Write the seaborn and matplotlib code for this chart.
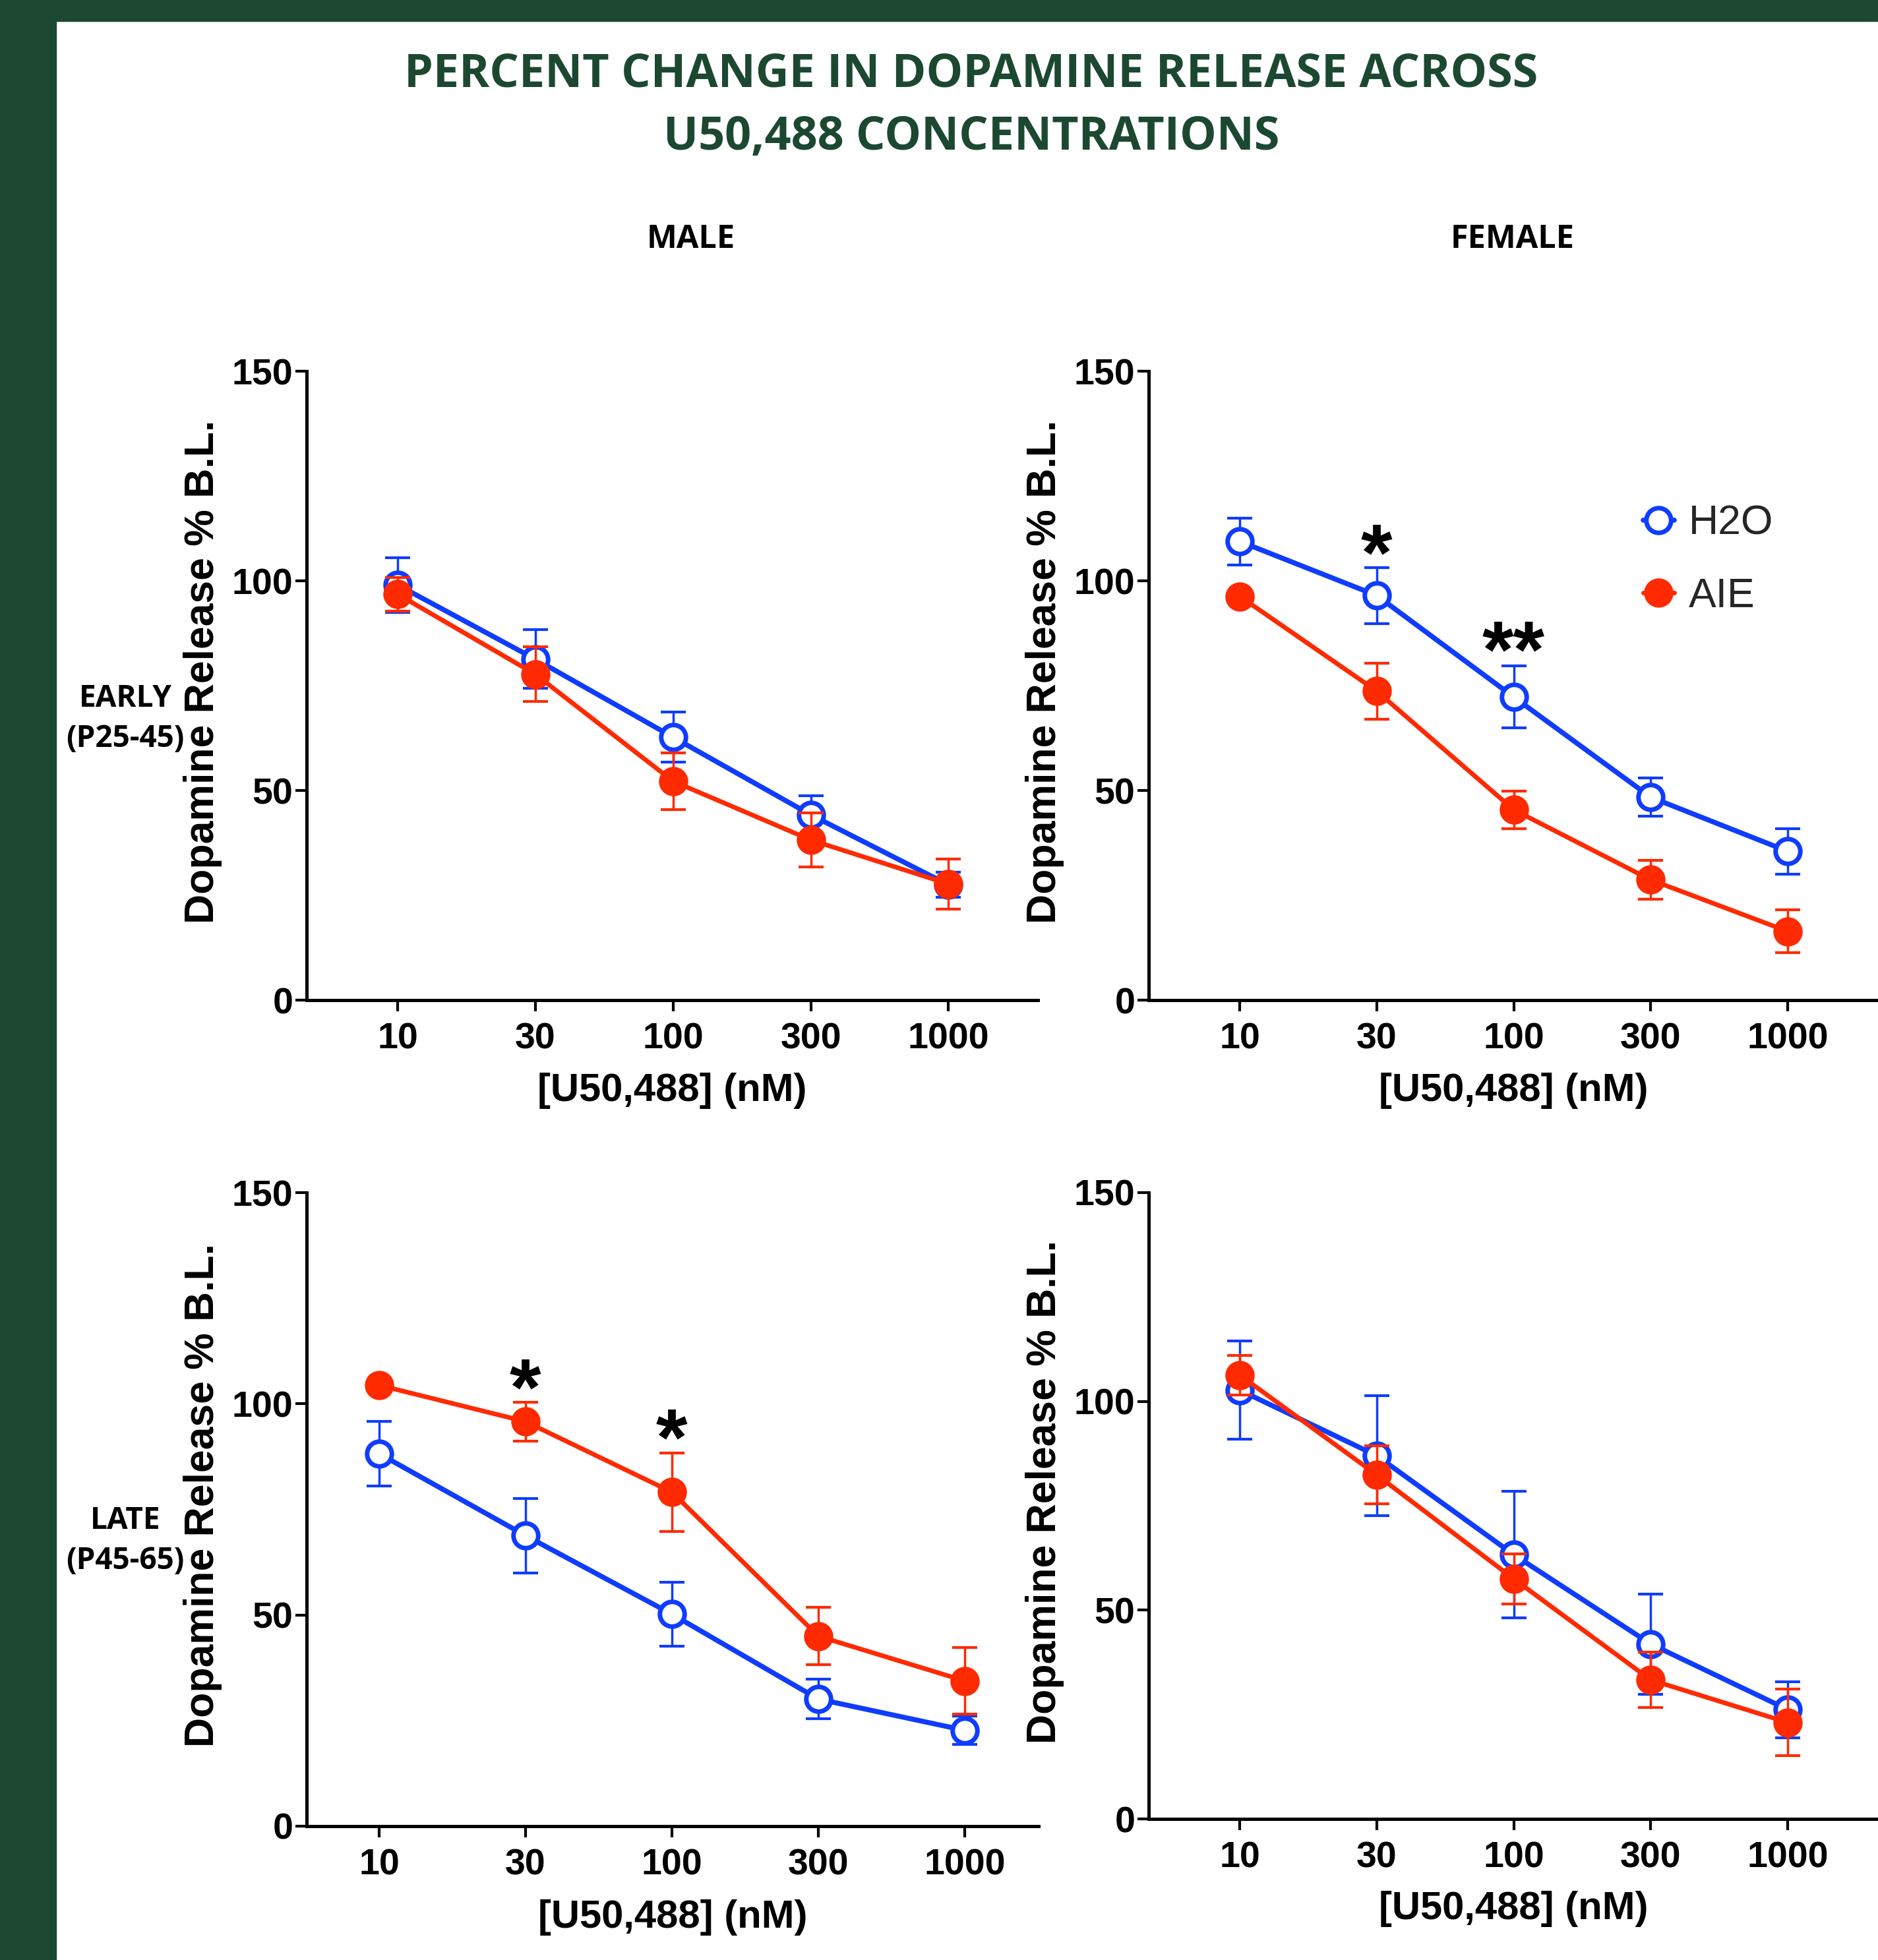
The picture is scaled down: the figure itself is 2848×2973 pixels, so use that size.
import matplotlib
matplotlib.use("Agg")
import matplotlib.pyplot as plt
from matplotlib.patches import Rectangle
import pandas as pd
import seaborn as sns

# x categories (equally spaced, GraphPad style)
conc_labels = ["10", "30", "100", "300", "1000"]

# MALE, EARLY (P25-45)
male_early_h2o = [99.0, 81.3, 62.7, 44.2, 27.5]
male_early_h2o_sem = [6.5, 7.0, 6.0, 4.5, 3.0]
male_early_aie = [96.8, 77.7, 52.2, 38.2, 27.7]
male_early_aie_sem = [4.0, 6.5, 6.7, 6.5, 6.0]

# FEMALE, EARLY
female_early_h2o = [109.4, 96.5, 72.3, 48.4, 35.5]
female_early_h2o_sem = [5.6, 6.7, 7.4, 4.6, 5.4]
female_early_aie = [96.3, 73.7, 45.4, 28.7, 16.4]
female_early_aie_sem = [1.0, 6.7, 4.5, 4.7, 5.1]

# MALE, LATE (P45-65)
male_late_h2o = [88.2, 68.8, 50.2, 30.1, 22.7]
male_late_h2o_sem = [7.7, 8.8, 7.6, 4.7, 3.4]
male_late_aie = [104.4, 95.8, 79.1, 45.0, 34.4]
male_late_aie_sem = [1.0, 4.6, 9.3, 6.8, 7.9]

# FEMALE, LATE
female_late_h2o = [102.7, 87.0, 63.3, 41.9, 26.2]
female_late_h2o_sem = [11.7, 14.3, 15.2, 12.0, 6.7]
female_late_aie = [106.3, 82.4, 57.5, 33.3, 23.1]
female_late_aie_sem = [4.7, 7.0, 6.0, 6.6, 8.0]

# significance marks: (category index, y level of the star centre, text)
female_early_stars = [(1, 109.7, "*"), (2, 86.5, "**")]
male_late_stars = [(1, 106.8, "*"), (2, 95.0, "*")]

BLUE = "#0f3cff"
RED = "#ff2a00"
GREEN = "#1c4832"
STAR_FS = 88

sns.set_theme(style="ticks")
plt.rcParams["font.family"] = ["Liberation Sans", "DejaVu Sans"]

W, H = 2848, 2973
fig = plt.figure(figsize=(W / 100, H / 100), dpi=100)
fig.patch.set_facecolor("white")

# dark green frame (left and top)
fig.patches.append(Rectangle((0, 0), 85 / W, 1, transform=fig.transFigure,
                             color=GREEN, zorder=0))
fig.patches.append(Rectangle((0, 1 - 32 / H), 1, 32 / H, transform=fig.transFigure,
                             color=GREEN, zorder=0))


def box(l, t, r, b):
    return [l / W, 1 - b / H, (r - l) / W, (b - t) / H]


panels = [
    (box(465, 563, 1574, 1517), (-0.662, 4.65), male_early_h2o, male_early_h2o_sem,
     male_early_aie, male_early_aie_sem, []),
    (box(1742, 563, 2848, 1517), (-0.665, 4.66), female_early_h2o, female_early_h2o_sem,
     female_early_aie, female_early_aie_sem, female_early_stars),
    (box(465, 1809, 1575, 2770), (-0.495, 4.505), male_late_h2o, male_late_h2o_sem,
     male_late_aie, male_late_aie_sem, male_late_stars),
    (box(1742, 1809, 2848, 2759), (-0.665, 4.66), female_late_h2o, female_late_h2o_sem,
     female_late_aie, female_late_aie_sem, []),
]

axes = []
for rect, xlim, h2o, h2o_sem, aie, aie_sem, stars in panels:
    ax = fig.add_axes(rect)
    ax.set_facecolor("white")
    xs = list(range(len(conc_labels)))
    df = pd.DataFrame({"x": xs, "h2o": h2o, "aie": aie})

    ax.errorbar(xs, h2o, yerr=h2o_sem, fmt="none", ecolor=BLUE, elinewidth=2.5,
                capsize=14, capthick=3, zorder=2, clip_on=False)
    sns.lineplot(data=df, x="x", y="h2o", ax=ax, color=BLUE, lw=5.5, marker="o",
                 markersize=27, markerfacecolor="white", markeredgecolor=BLUE,
                 markeredgewidth=5, label="H2O", legend=False, zorder=3, clip_on=False)
    ax.errorbar(xs, aie, yerr=aie_sem, fmt="none", ecolor=RED, elinewidth=2.5,
                capsize=14, capthick=3, zorder=4, clip_on=False)
    sns.lineplot(data=df, x="x", y="aie", ax=ax, color=RED, lw=5, marker="o",
                 markersize=32, markerfacecolor=RED, markeredgewidth=0,
                 label="AIE", legend=False, zorder=5, clip_on=False)

    # asterisk glyph sits high in the em box: anchor on baseline, shift down
    for xi, yi, s in stars:
        ax.annotate(s, (xi, yi), xytext=(0, -0.49 * STAR_FS), textcoords="offset points",
                    ha="center", va="baseline", fontsize=STAR_FS,
                    fontweight="bold", color="black")

    ax.set_xlim(*xlim)
    ax.set_ylim(0, 150)
    ax.set_xticks(xs)
    ax.set_xticklabels(conc_labels)
    ax.set_yticks([0, 50, 100, 150])
    sns.despine(ax=ax)
    for side in ["left", "bottom"]:
        ax.spines[side].set_linewidth(3.6)
        ax.spines[side].set_color("black")
    ax.tick_params(axis="both", length=12, width=3, colors="black")
    ax.tick_params(axis="x", pad=12, labelsize=40)
    ax.tick_params(axis="y", pad=3, labelsize=40)
    for lab in ax.get_xticklabels() + ax.get_yticklabels():
        lab.set_fontweight("bold")

    ax.set_xlabel("[U50,488] (nM)", fontsize=43, fontweight="bold", color="black")
    ax.set_ylabel("Dopamine Release % B.L.", fontsize=45, fontweight="bold", color="black")
    ax.xaxis.label.set_va("center")
    ax.yaxis.label.set_va("center")
    ax.xaxis.set_label_coords(0.5, -0.144)
    ax.yaxis.set_label_coords(-0.142, 0.522)
    ax.grid(False)
    axes.append(ax)

# legend in the female-early panel
handles, labels = axes[1].get_legend_handles_labels()
fig.legend(handles, labels, loc="center left", bbox_to_anchor=(2492 / W, 1 - 849 / H),
           frameon=False, fontsize=45, handlelength=0.75, handletextpad=0.35,
           labelspacing=0.82, borderpad=0, borderaxespad=0)

# titles
title_kw = dict(ha="center", va="center", color=GREEN, fontsize=50.5,
                fontweight="bold", family=["Open Sans", "DejaVu Sans"])
fig.text(1473 / W, 1 - 114 / H, "PERCENT CHANGE IN DOPAMINE RELEASE ACROSS", **title_kw)
fig.text(1473 / W, 1 - 209 / H, "U50,488 CONCENTRATIONS", **title_kw)

head_kw = dict(ha="center", va="center", color="black", fontsize=35,
               fontweight="bold", family=["Open Sans", "DejaVu Sans"])
fig.text(1048 / W, 1 - 364 / H, "MALE", **head_kw)
fig.text(2294 / W, 1 - 364 / H, "FEMALE", **head_kw)

row_kw = dict(ha="center", va="center", color="black", fontsize=33,
              fontweight="bold", family=["Open Sans", "DejaVu Sans"], linespacing=1.4)
fig.text(190 / W, 1 - 1090 / H, "EARLY\n(P25-45)", **row_kw)
fig.text(190 / W, 1 - 2337 / H, "LATE\n(P45-65)", **row_kw)

fig.savefig("out.png", dpi=100, facecolor="white")
